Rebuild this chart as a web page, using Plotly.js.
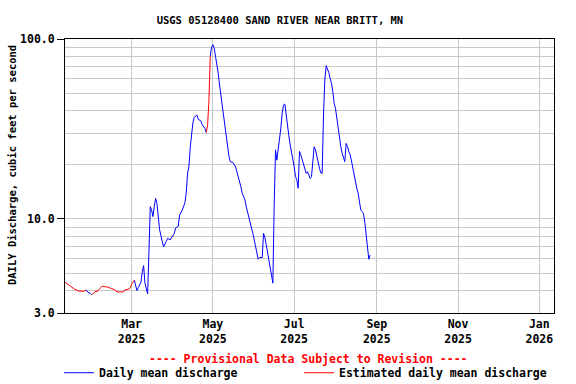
<!DOCTYPE html>
<html>
<head>
<meta charset="utf-8">
<script src="https://cdn.plot.ly/plotly-3.0.1.min.js"></script>
<style>html,body{margin:0;padding:0;background:#fff}#chart{width:576px;height:384px}</style>
</head>
<body>
<div id="chart"></div>
<script>
// Daily mean discharge, cubic feet per second
const dates = [
 '2025-01-10','2025-01-14','2025-01-17','2025-01-20','2025-01-24','2025-01-26',
 '2025-01-27','2025-01-29','2025-01-30',
 '2025-02-01','2025-02-02','2025-02-03','2025-02-04','2025-02-07','2025-02-09','2025-02-11','2025-02-14','2025-02-16','2025-02-18','2025-02-23','2025-02-24','2025-02-27','2025-02-28','2025-03-01','2025-03-03',
 '2025-03-04','2025-03-05','2025-03-06','2025-03-08','2025-03-09','2025-03-10','2025-03-11','2025-03-12','2025-03-13','2025-03-14','2025-03-15','2025-03-16','2025-03-17','2025-03-18','2025-03-19','2025-03-20','2025-03-21','2025-03-22','2025-03-24','2025-03-25','2025-03-27','2025-03-28','2025-03-30',
 '2025-04-01','2025-04-02','2025-04-03','2025-04-05','2025-04-06','2025-04-08','2025-04-10','2025-04-11','2025-04-12','2025-04-13','2025-04-14','2025-04-15','2025-04-16','2025-04-17','2025-04-19','2025-04-20','2025-04-22','2025-04-23','2025-04-25','2025-04-26',
 '2025-04-27','2025-04-28','2025-04-29',
 '2025-04-30','2025-05-01','2025-05-02','2025-05-03','2025-05-04','2025-05-05','2025-05-06','2025-05-07','2025-05-08','2025-05-09','2025-05-10','2025-05-11','2025-05-12','2025-05-13','2025-05-14','2025-05-16','2025-05-18','2025-05-19','2025-05-21','2025-05-22','2025-05-23','2025-05-25','2025-05-26','2025-05-27','2025-05-28','2025-05-30','2025-05-31',
 '2025-06-01','2025-06-02','2025-06-03','2025-06-04','2025-06-05','2025-06-07','2025-06-08','2025-06-09','2025-06-10','2025-06-11','2025-06-12','2025-06-13','2025-06-14','2025-06-15','2025-06-16','2025-06-17','2025-06-18','2025-06-19','2025-06-20','2025-06-21','2025-06-22','2025-06-23','2025-06-24','2025-06-25','2025-06-26','2025-06-27','2025-06-28','2025-06-29','2025-06-30',
 '2025-07-01','2025-07-02','2025-07-03','2025-07-04','2025-07-05','2025-07-06','2025-07-07','2025-07-08','2025-07-09','2025-07-10','2025-07-11','2025-07-12','2025-07-13','2025-07-14','2025-07-15','2025-07-16','2025-07-17','2025-07-18','2025-07-19','2025-07-20','2025-07-21','2025-07-22','2025-07-23','2025-07-24','2025-07-25','2025-07-26','2025-07-27','2025-07-28','2025-07-29','2025-07-30','2025-07-31',
 '2025-08-01','2025-08-02','2025-08-03','2025-08-04','2025-08-05','2025-08-06','2025-08-07','2025-08-08','2025-08-09','2025-08-10','2025-08-11','2025-08-12','2025-08-13','2025-08-14','2025-08-15','2025-08-16','2025-08-17','2025-08-18','2025-08-19','2025-08-20','2025-08-21','2025-08-22','2025-08-23','2025-08-24','2025-08-25','2025-08-26','2025-08-27'
];
const flow = [
 4.45,4.21,4.08,3.98,3.96,4.03,
 3.92,3.85,3.80,
 3.88,3.98,3.93,4.03,4.23,4.20,4.18,4.10,4.05,3.93,3.93,4.03,4.08,4.15,4.34,4.56,
 4.21,4.00,4.15,4.45,5.08,5.50,4.40,4.00,3.83,6.5,11.7,11.2,10.3,11.7,13.0,12.2,10.0,8.7,7.5,7.0,7.5,7.8,7.65,
 8.0,8.3,8.9,9.1,10.5,11.2,12.3,14.0,18.0,19.5,25,31,34.3,36.7,37.8,35.8,35.0,33.3,31.9,30.2,
 33,45,80,
 90,93,88.8,79.8,73.3,64.5,55.5,48.9,42.1,36.2,31.9,28.1,24.7,22.4,20.8,20.6,19.5,18.3,16.5,15.1,13.9,12.8,11.7,11.0,10.1,9.06,8.3,
 7.65,7.0,6.45,5.97,6.1,6.1,8.3,7.9,7.2,6.5,5.8,5.2,4.7,4.4,12,24.2,21.2,24.2,26.3,32,38.7,43,43.5,37,31.9,29,25.8,23.7,22.3,
 19.5,17.2,16.5,14.8,23.7,22.7,21.2,20.0,18.7,17.9,18.3,17.6,16.8,17.2,20.4,25.2,24.2,22.0,20.4,19.1,18.0,17.9,37.8,59,71.1,68.7,65.0,60.4,56.7,51,43.9,
 41.2,36,32.6,28.5,25.2,23.2,21.7,20.8,26.3,25.3,23.7,22.7,21.0,19.1,17.9,16.3,14.8,13.9,12.6,11.2,11.0,10.7,9.6,8.3,7.4,5.97,6.3
];
// 1 = estimated daily value
const estimated = [
 1,1,1,1,1,1,
 0,0,0,
 1,1,1,1,1,1,1,1,1,1,1,1,1,1,1,1,
 0,0,0,0,0,0,0,0,0,0,0,0,0,0,0,0,0,0,0,0,0,0,0,
 0,0,0,0,0,0,0,0,0,0,0,0,0,0,0,0,0,0,0,0,
 1,1,1,
 0,0,0,0,0,0,0,0,0,0,0,0,0,0,0,0,0,0,0,0,0,0,0,0,0,0,0,0,0,
 0,0,0,0,0,0,0,0,0,0,0,0,0,0,0,0,0,0,0,0,0,0,0,0,0,0,0,0,0,
 0,0,0,0,0,0,0,0,0,0,0,0,0,0,0,0,0,0,0,0,0,0,0,0,0,0,0,0,0,0,0,
 0,0,0,0,0,0,0,0,0,0,0,0,0,0,0,0,0,0,0,0,0,0,0,0,0,0,0
];
const xTickVals = ['2025-03-01','2025-05-01','2025-07-01','2025-09-01','2025-11-01','2026-01-01'];
const xTickText = ['Mar<br>2025','May<br>2025','Jul<br>2025','Sep<br>2025','Nov<br>2025','Jan<br>2026'];
const yTickVals = [3, 10, 100];
const yTickText = ['3.0', '10.0', '100.0'];
const yGridVals = [4,5,6,7,8,9,20,30,40,50,60,70,80,90];

const n = flow.length;
const blueY = flow.map((v,i) => (!estimated[i] || (i+1<n && !estimated[i+1])) ? v : null);
const redY  = flow.map((v,i) => (estimated[i] || (i+1<n && estimated[i+1])) ? v : null);

const FONT = 'DejaVu Sans Mono, monospace';
const traces = [
  {x: dates, y: blueY, type: 'scatter', mode: 'lines', name: 'Daily mean discharge',
   line: {color: '#0000ff', width: 1}, connectgaps: false, legend: 'legend'},
  {x: dates, y: redY, type: 'scatter', mode: 'lines', name: 'Estimated daily mean discharge',
   line: {color: '#ff0000', width: 1}, connectgaps: false, legend: 'legend2'}
];
const legFont = {family: FONT, size: 11.5, weight: 'bold', color: '#000'};
const layout = {
  width: 576, height: 384,
  margin: {l: 65, r: 22, t: 39, b: 71, autoexpand: false},
  paper_bgcolor: '#ffffff', plot_bgcolor: '#ffffff',
  font: {family: FONT, size: 11.5, color: '#000', weight: 'bold'},
  title: {text: 'USGS 05128400 SAND RIVER NEAR BRITT, MN', x: 0.486, xref: 'container', xanchor: 'center',
          y: 0.948, yref: 'container', yanchor: 'middle', font: {family: FONT, size: 10.5, weight: 'bold', color: '#000'}},
  xaxis: {type: 'date', range: ['2025-01-10', '2026-01-12'], tickmode: 'array', tickvals: xTickVals, ticktext: xTickText,
          showgrid: true, gridcolor: '#c8c8c8', gridwidth: 1, ticks: '', showline: true, mirror: true,
          linecolor: '#000', linewidth: 1, zeroline: false, tickfont: {family: FONT, size: 11.5, weight: 'bold'}},
  yaxis: {type: 'log', range: [Math.log10(3), 2], tickmode: 'array', tickvals: yTickVals, ticktext: yTickText,
          showgrid: true, gridcolor: '#c8c8c8', gridwidth: 1, ticks: 'outside', ticklen: 7, tickcolor: '#000',
          showline: true, mirror: true, linecolor: '#000', linewidth: 1, zeroline: false,
          minor: {tickmode: 'array', tickvals: yGridVals, showgrid: true, gridcolor: '#c8c8c8', gridwidth: 1, ticks: ''},
          tickfont: {family: FONT, size: 11.5, weight: 'bold'}},
  showlegend: true,
  legend: {orientation: 'h', x: -0.0123, xanchor: 'left', y: -0.218, yanchor: 'middle',
           font: legFont, bgcolor: 'rgba(0,0,0,0)', borderwidth: 0},
  legend2: {orientation: 'h', x: 0.4785, xanchor: 'left', y: -0.218, yanchor: 'middle',
           font: legFont, bgcolor: 'rgba(0,0,0,0)', borderwidth: 0},
  annotations: [
    {text: '---- Provisional Data Subject to Revision ----', xref: 'paper', yref: 'paper', x: 0.4976, y: -0.168,
     xanchor: 'center', yanchor: 'middle', showarrow: false, font: {family: FONT, size: 11.5, color: '#ff0000', weight: 'bold'}},
    {text: 'DAILY Discharge, cubic feet per second', xref: 'paper', yref: 'paper', x: -0.1084, y: 0.54,
     xanchor: 'center', yanchor: 'middle', textangle: -90, showarrow: false, font: {family: FONT, size: 10.5, color: '#000', weight: 'bold'}}
  ]
};
Plotly.newPlot('chart', traces, layout, {staticPlot: true, displayModeBar: false});
</script>
</body>
</html>
